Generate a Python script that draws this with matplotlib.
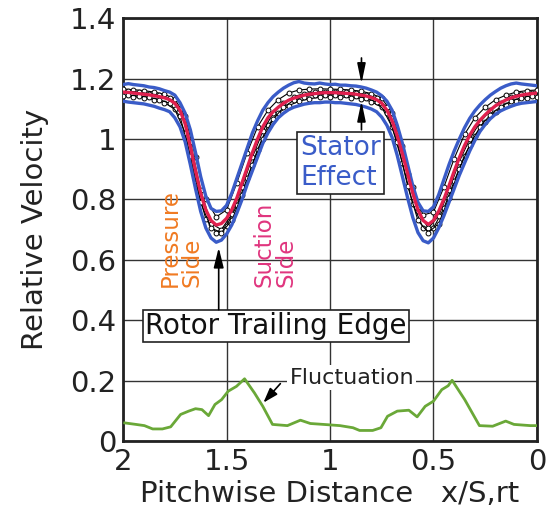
import numpy as np
import matplotlib.pyplot as plt

plt.rcParams['font.family'] = ['DejaVu Sans']

# pitchwise positions (2 -> 0)
x_fine = np.linspace(2.0, 0.0, 81)      # step 0.025
x_a = np.linspace(2.0, 0.0, 41)         # step 0.05
x_b = np.linspace(1.975, 0.025, 40)     # step 0.05, offset

# mean relative velocity (red)
v_mean = [1.155, 1.154, 1.152, 1.150, 1.148, 1.146, 1.143, 1.140, 1.136, 1.130,
          1.118, 1.095, 1.050, 0.975, 0.895, 0.820, 0.765, 0.730, 0.715, 0.720,
          0.737, 0.765, 0.805, 0.855, 0.905, 0.955, 1.000, 1.040, 1.070, 1.090,
          1.105, 1.118, 1.128, 1.135, 1.140, 1.145, 1.148, 1.150, 1.152, 1.153,
          1.153, 1.153, 1.152, 1.151, 1.150, 1.148, 1.145, 1.142, 1.137, 1.130,
          1.118, 1.095, 1.060, 1.010, 0.950, 0.885, 0.820, 0.765, 0.730, 0.717,
          0.730, 0.760, 0.800, 0.845, 0.893, 0.938, 0.978, 1.012, 1.040, 1.062,
          1.080, 1.096, 1.110, 1.120, 1.129, 1.136, 1.141, 1.145, 1.148, 1.150,
          1.152]

# envelope (blue)
v_upper = [1.180, 1.183, 1.180, 1.178, 1.176, 1.172, 1.170, 1.166, 1.160, 1.155,
           1.145, 1.120, 1.085, 1.030, 0.955, 0.875, 0.810, 0.770, 0.760, 0.762,
           0.780, 0.820, 0.870, 0.920, 0.970, 1.020, 1.060, 1.095, 1.120, 1.140,
           1.155, 1.168, 1.178, 1.186, 1.190, 1.185, 1.183, 1.182, 1.185, 1.182,
           1.180, 1.181, 1.178, 1.178, 1.176, 1.175, 1.172, 1.168, 1.162, 1.155,
           1.143, 1.125, 1.095, 1.045, 0.985, 0.915, 0.845, 0.790, 0.762, 0.760,
           0.775, 0.815, 0.865, 0.915, 0.960, 1.000, 1.037, 1.068, 1.093, 1.113,
           1.130, 1.145, 1.157, 1.168, 1.176, 1.182, 1.185, 1.182, 1.180, 1.178,
           1.176]
v_lower = [1.125, 1.122, 1.120, 1.118, 1.116, 1.112, 1.108, 1.102, 1.097, 1.090,
           1.070, 1.040, 0.990, 0.915, 0.835, 0.760, 0.705, 0.672, 0.658, 0.665,
           0.685, 0.715, 0.755, 0.800, 0.850, 0.895, 0.940, 0.985, 1.020, 1.048,
           1.070, 1.085, 1.097, 1.105, 1.110, 1.115, 1.118, 1.120, 1.120, 1.122,
           1.122, 1.120, 1.120, 1.118, 1.116, 1.114, 1.110, 1.105, 1.099, 1.090,
           1.072, 1.045, 1.005, 0.945, 0.875, 0.805, 0.740, 0.690, 0.663, 0.656,
           0.672, 0.705, 0.745, 0.790, 0.835, 0.880, 0.920, 0.960, 0.995, 1.025,
           1.048, 1.067, 1.082, 1.093, 1.101, 1.108, 1.114, 1.118, 1.120, 1.122,
           1.124]

# individual rotor-stator positions (black, markers)
v_run1 = [1.165, 1.163, 1.160, 1.155, 1.148, 1.132, 1.075, 0.940, 0.800, 0.742,
          0.765, 0.855, 0.955, 1.040, 1.095, 1.130, 1.152, 1.162, 1.165, 1.166,
          1.165, 1.164, 1.162, 1.158, 1.150, 1.135, 1.085, 0.975, 0.840, 0.748,
          0.758, 0.840, 0.935, 1.015, 1.070, 1.105, 1.130, 1.145, 1.155, 1.160,
          1.162]
v_run2 = [1.142, 1.140, 1.136, 1.130, 1.120, 1.098, 1.020, 0.855, 0.735, 0.690,
          0.712, 0.780, 0.870, 0.965, 1.045, 1.085, 1.110, 1.125, 1.133, 1.138,
          1.140, 1.139, 1.137, 1.133, 1.123, 1.105, 1.040, 0.920, 0.785, 0.705,
          0.705, 0.770, 0.860, 0.945, 1.010, 1.055, 1.090, 1.112, 1.126, 1.135,
          1.140]
v_run3 = [1.158, 1.155, 1.150, 1.145, 1.135, 1.100, 0.990, 0.830, 0.720, 0.700,
          0.750, 0.840, 0.940, 1.025, 1.085, 1.120, 1.140, 1.150, 1.155, 1.156,
          1.156, 1.155, 1.152, 1.147, 1.136, 1.105, 1.020, 0.885, 0.760, 0.705,
          0.745, 0.830, 0.925, 1.000, 1.055, 1.095, 1.120, 1.138, 1.148, 1.152]
v_run4 = [1.145, 1.142, 1.138, 1.130, 1.118, 1.075, 0.945, 0.790, 0.705, 0.690,
          0.730, 0.815, 0.915, 1.000, 1.065, 1.105, 1.128, 1.140, 1.145, 1.147,
          1.146, 1.145, 1.142, 1.135, 1.122, 1.085, 0.990, 0.845, 0.730, 0.690,
          0.720, 0.805, 0.900, 0.980, 1.040, 1.080, 1.107, 1.125, 1.137, 1.143]

# fluctuation (green)
x_fluc = [1.992, 1.938, 1.897, 1.857, 1.810, 1.770, 1.722, 1.683, 1.650, 1.619,
          1.587, 1.556, 1.524, 1.492, 1.452, 1.413, 1.365, 1.325, 1.278, 1.206,
          1.143, 1.095, 1.032, 0.952, 0.889, 0.857, 0.794, 0.754, 0.722, 0.675,
          0.619, 0.579, 0.540, 0.500, 0.460, 0.429, 0.410, 0.349, 0.278, 0.214,
          0.151, 0.111, 0.032, 0.005]
v_fluc = [0.060, 0.055, 0.051, 0.040, 0.040, 0.047, 0.088, 0.099, 0.107, 0.104,
          0.084, 0.121, 0.137, 0.165, 0.181, 0.206, 0.159, 0.115, 0.055, 0.051,
          0.069, 0.058, 0.055, 0.051, 0.044, 0.035, 0.035, 0.044, 0.082, 0.099,
          0.102, 0.080, 0.115, 0.132, 0.170, 0.183, 0.201, 0.137, 0.051, 0.049,
          0.066, 0.055, 0.051, 0.051]

blue = '#3a5cc8'
red = '#e0204e'
green = '#6aa838'

fig = plt.figure(figsize=(5.57, 5.32), dpi=100)
ax = fig.add_axes([0.221, 0.171, 0.743, 0.795])

for xs, vs in [(x_a, v_run1), (x_a, v_run2), (x_b, v_run3), (x_b, v_run4)]:
    ax.plot(xs, vs, color='black', lw=0.8, marker='o', ms=3.5,
            mfc='white', mec='black', mew=0.7, zorder=3)

ax.plot(x_fine, v_upper, color=blue, lw=2.4, zorder=4)
ax.plot(x_fine, v_lower, color=blue, lw=2.4, zorder=4)
ax.plot(x_fine, v_mean, color=red, lw=2.4, zorder=5)
ax.plot(x_fluc, v_fluc, color=green, lw=2, zorder=4)

ax.set_xlim(2, 0)
ax.set_ylim(0, 1.4)
ax.set_xticks([2, 1.5, 1, 0.5, 0])
ax.set_xticklabels(['2', '1.5', '1', '0.5', '0'])
ax.set_yticks([0, 0.2, 0.4, 0.6, 0.8, 1.0, 1.2, 1.4])
ax.set_yticklabels(['0', '0.2', '0.4', '0.6', '0.8', '1', '1.2', '1.4'])
ax.tick_params(length=0, labelsize=21, pad=5, colors='#222222')
ax.grid(True, color='#333333', lw=1.0)
ax.set_axisbelow(True)
for s in ax.spines.values():
    s.set_linewidth(2)
    s.set_color('#222222')

ax.set_xlabel('Pitchwise Distance   x/S,rt', fontsize=21, color='#222222', labelpad=3)
ax.set_ylabel('Relative Velocity', fontsize=21, color='#222222', labelpad=15)

# annotations
ax.text(0.948, 0.92, 'Stator\nEffect', fontsize=19, color=blue, ha='center', va='center',
        multialignment='left', zorder=6,
        bbox=dict(boxstyle='square,pad=0.12', fc='white', ec='#222222', lw=1.2))
ax.annotate('', xy=(0.848, 1.183), xytext=(0.848, 1.268),
            arrowprops=dict(arrowstyle='-|>,head_length=1.2,head_width=0.25',
                            color='black', lw=1.2, shrinkA=0, shrinkB=0), zorder=7)
ax.annotate('', xy=(0.848, 1.125), xytext=(0.848, 1.03),
            arrowprops=dict(arrowstyle='-|>,head_length=1.2,head_width=0.25',
                            color='black', lw=1.2, shrinkA=0, shrinkB=0), zorder=7)

ax.text(1.262, 0.381, 'Rotor Trailing Edge', fontsize=20, color='#111111',
        ha='center', va='center', zorder=6,
        bbox=dict(boxstyle='square,pad=0.08', fc='white', ec='#222222', lw=1.2))
ax.annotate('', xy=(1.538, 0.64), xytext=(1.538, 0.435),
            arrowprops=dict(arrowstyle='-|>,head_length=1.2,head_width=0.3',
                            color='black', lw=1.2, shrinkA=0, shrinkB=0), zorder=7)

ax.text(1.72, 0.51, 'Pressure\nSide', fontsize=16.5, color='#f07a22', rotation=90,
        ha='center', va='bottom', multialignment='left', linespacing=0.95, zorder=6)
ax.text(1.268, 0.51, 'Suction\nSide', fontsize=16.5, color='#e0357e', rotation=90,
        ha='center', va='bottom', multialignment='left', linespacing=0.95, zorder=6)

ax.text(0.895, 0.21, 'Fluctuation', fontsize=16, color='#222222', ha='center',
        va='center', zorder=6, bbox=dict(boxstyle='square,pad=0.1', fc='white', ec='none'))
ax.annotate('', xy=(1.322, 0.127), xytext=(1.24, 0.19),
            arrowprops=dict(arrowstyle='-|>,head_length=0.9,head_width=0.3',
                            color='black', lw=1.2, shrinkA=0, shrinkB=0), zorder=7)

fig.savefig('out.png', dpi=100)
